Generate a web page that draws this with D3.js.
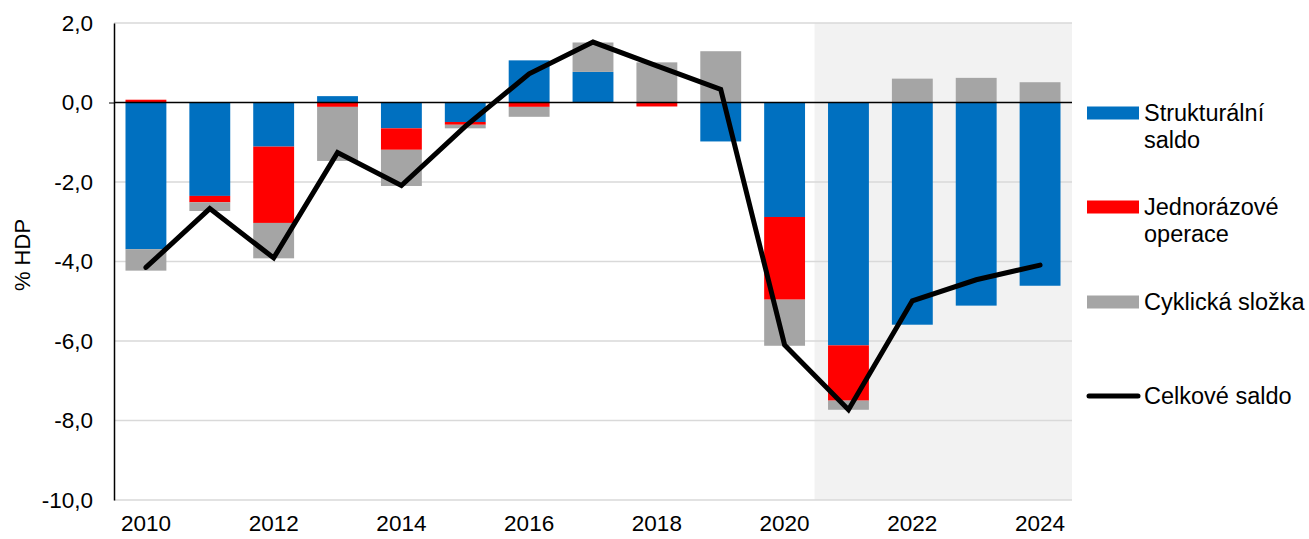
<!DOCTYPE html>
<html><head><meta charset="utf-8">
<script src="https://cdn.jsdelivr.net/npm/d3@7"></script>
<style>body{margin:0;background:#fff}svg{display:block;font-family:Arial,"Liberation Sans",sans-serif}</style>
</head><body><svg id="c" width="1309" height="539"></svg>
<script>
const years = ["2010","2011","2012","2013","2014","2015","2016","2017","2018","2019","2020","2021","2022","2023","2024"];
const structural = [-3.69,-2.35,-1.11,0.16,-0.65,-0.49,1.06,0.77,0,-0.98,-2.88,-6.11,-5.59,-5.11,-4.61];
const oneOff     = [0.07,-0.16,-1.92,-0.11,-0.54,-0.07,-0.11,0,-0.10,0,-2.08,-1.39,0,0,0];
const cyclical   = [-0.54,-0.22,-0.89,-1.36,-0.91,-0.09,-0.25,0.74,1.01,1.29,-1.16,-0.23,0.60,0.62,0.51];
const total      = [-4.15,-2.67,-3.91,-1.26,-2.09,-0.60,0.72,1.52,0.92,0.33,-6.10,-7.73,-4.99,-4.46,-4.09];
const yTicks = [2,0,-2,-4,-6,-8,-10];
const xTickLabels = ["2010","2012","2014","2016","2018","2020","2022","2024"];
const seriesNames = ["Strukturální saldo","Jednorázové operace","Cyklická složka","Celkové saldo"];
const forecastFrom = "2021";

const colors = ["#0070c0","#ff0000","#a5a5a5"];
const svg = d3.select("#c");
const L=114, R=1072, T=23, B=500;
const x = d3.scaleBand().domain(years).range([L,R]).paddingInner(0.36).paddingOuter(0.18);
const y = d3.scaleLinear().domain([-10,2]).range([B,T]);

// forecast shading
const step = x.step();
const shadeX = x(forecastFrom) - (step - x.bandwidth())/2 - 2;
svg.append("rect").attr("x", shadeX).attr("y", T)
  .attr("width", R - shadeX).attr("height", B - T).attr("fill","#f2f2f2");

// gridlines
svg.append("g").selectAll("line").data(yTicks.filter(d=>d!==0)).join("line")
  .attr("x1",L).attr("x2",R).attr("y1",d=>y(d)).attr("y2",d=>y(d))
  .attr("stroke","#d9d9d9").attr("stroke-width",1.5);

// stacked bars
const table = years.map((yr,i)=>({year:yr, s:structural[i], o:oneOff[i], c:cyclical[i]}));
const stack = d3.stack().keys(["s","o","c"]).offset(d3.stackOffsetDiverging)(table);
svg.append("g").selectAll("g").data(stack).join("g").attr("fill",(d,i)=>colors[i])
  .selectAll("rect").data(d=>d).join("rect")
  .attr("x",d=>x(d.data.year)).attr("width",x.bandwidth())
  .attr("y",d=>y(Math.max(d[0],d[1]))).attr("height",d=>Math.abs(y(d[0])-y(d[1])));

// zero line
svg.append("line").attr("x1",L).attr("x2",R).attr("y1",y(0)).attr("y2",y(0)).attr("stroke","#000").attr("stroke-width",1.5);

// y axis
const yAxis = d3.axisLeft(y).tickValues(yTicks).tickSize(0).tickPadding(21)
  .tickFormat(d=>d3.format(".1f")(d).replace(".",",").replace("−","-"));
const ya = svg.append("g").attr("transform",`translate(${L},0)`).call(yAxis);
ya.select(".domain").attr("stroke","#000").attr("stroke-width",1.5);
ya.selectAll("text").attr("font-size",22.5).attr("fill","#000").attr("font-family","Arial, 'Liberation Sans', sans-serif");
ya.selectAll(".tick line").remove();
ya.selectAll(".tick").append("line").attr("x1",-5).attr("x2",0).attr("stroke",d=>d===0?"#000":"none");

// x axis labels
const xa = svg.append("g").attr("transform",`translate(0,${B})`)
  .call(d3.axisBottom(x).tickValues(xTickLabels).tickSize(0).tickPadding(15));
xa.select(".domain").remove();
xa.selectAll("text").attr("font-size",22.5).attr("fill","#000").attr("font-family","Arial, 'Liberation Sans', sans-serif");

// total line
const line = d3.line().x((d,i)=>x(years[i])+x.bandwidth()/2).y(d=>y(d));
svg.append("path").datum(total).attr("d",line).attr("fill","none").attr("stroke","#000")
  .attr("stroke-width",5).attr("stroke-linejoin","miter").attr("stroke-linecap","round");

// y title
svg.append("text").attr("transform","translate(30,255) rotate(-90)").attr("text-anchor","middle")
  .attr("font-size",22).text("% HDP");

// legend
const lg = svg.append("g").attr("font-size",23.5);
const legendRows = [
  {lines:["Strukturální","saldo"], y:113, c:colors[0]},
  {lines:["Jednorázové","operace"], y:207, c:colors[1]},
  {lines:["Cyklická složka"], y:302, c:colors[2]},
];
legendRows.forEach((r,i)=>{
  lg.append("rect").attr("x",1087).attr("y",r.y-6.5).attr("width",52).attr("height",13).attr("fill",r.c);
  const t = lg.append("text").attr("x",1144).attr("y",r.y+8);
  r.lines.forEach((ln,j)=>t.append("tspan").attr("x",1144).attr("dy",j?27:0).text(ln));
});
lg.append("line").attr("x1",1089).attr("x2",1138).attr("y1",396).attr("y2",396).attr("stroke","#000").attr("stroke-width",5).attr("stroke-linecap","round");
lg.append("text").attr("x",1144).attr("y",404).text(seriesNames[3]);
</script></body></html>
